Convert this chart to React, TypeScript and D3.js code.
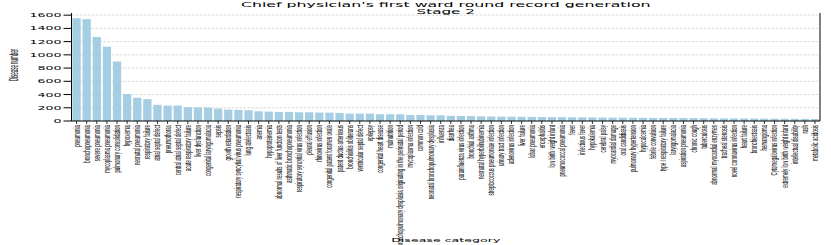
import React, { useEffect, useRef } from 'react';
import * as d3 from 'd3';

const title = "Chief physician's first ward round record generation";
const subtitle = 'Stage 2';
const xTitle = 'Disease category';
const yTitle = 'Disease number';

const categories = [
  'pneumonia', 'bronchopneumonia', 'severe pneumonia', 'mycoplasma pneumonia', 'pulmonary consolidation',
  'hypoxemia', 'neonatal pneumonia', 'respiratory failure', 'atrial septal defect', 'pneumothorax',
  'central atrial septal defect', 'acute respiratory failure', 'liver dysfunction', 'congenital laryngomalacia', 'sepsis',
  'growth retardation', 'respiratory syncytial virus pneumonia', 'lung atelectasis', 'anemia', 'hypoproteinemia',
  'abnormal results of liver function tests', 'asthmatic bronchopneumonia', 'respiratory syncytial virus infection', 'pleural effusion', 'rhinovirus infection',
  'congenital patent foramen ovale', 'patent ductus arteriosus', 'bronchiolitis obliterans', 'ventricular septal defect', 'epilepsy',
  'congenital heart disease', 'malnutrition', 'bronchopulmonary dysplasia originating in the perinatal period', 'mycoplasma infection', 'common cold',
  'neonatal bronchopulmonary dysplasia', 'influenza', 'diarrhea', 'parainfluenza virus infection', 'bronchial asthma',
  'neonatal hyperbilirubinemia', 'streptococcus pneumoniae infection', 'urinary tract infection', 'adenovirus infection', 'liver failure',
  'lobar pneumonia', 'encephalitis', 'low birth weight infant', 'pneumococcal pneumonia', 'fever',
  'infectious fever', 'hypokalemia', 'cerebral palsy', 'myocardial damage', 'oral candidiasis',
  'pulmonary hypertension', 'hypocalcemia', 'febrile convulsion', 'type I respiratory failure', 'laryngomalacia',
  'aspiration pneumonia', 'chronic cough', 'tuberculosis', 'abnormal myocardial enzymes', 'tracheal stenosis',
  'novel coronavirus infection', 'heart failure', 'bronchiectasis', 'hemangioma', 'Cytomegalovirus infection',
  'extremely low birth weight infant', 'intellectual disability', 'rash', 'metabolic acidosis',
];

const counts = [
  1555, 1540, 1270, 1123, 900, 407, 351, 331, 244, 233,
  233, 209, 206, 203, 188, 173, 168, 162, 147, 142,
  137, 137, 132, 132, 127, 127, 122, 112, 112, 112,
  102, 102, 102, 91, 91, 86, 86, 78, 76, 74,
  70, 68, 66, 65, 63, 62, 60, 59, 58, 56,
  55, 54, 52, 51, 50, 49, 48, 47, 46, 45,
  44, 43, 42, 41, 40, 39, 38, 37, 36, 35,
  34, 33, 32, 31,
];

const yTicks = [0, 200, 400, 600, 800, 1000, 1200, 1400, 1600];

export default function App() {
  const svgRef = useRef<SVGSVGElement>(null);

  useEffect(() => {
    document.body.style.margin = '0';
    const svg = d3.select(svgRef.current);
    svg.selectAll('*').remove();

    const width = 831;
    const height = 245;
    const margin = { top: 13, right: 11, bottom: 124, left: 71.5 };
    const innerRight = width - margin.right;
    const innerBottom = height - margin.bottom;

    svg.attr('width', width).attr('height', height);

    const x = d3.scaleBand<string>()
      .domain(categories)
      .range([margin.left, innerRight])
      .paddingInner(0.18)
      .paddingOuter(0.09);

    const y = d3.scaleLinear()
      .domain([0, d3.max(counts)! * 1.05])
      .range([innerBottom, margin.top]);

    const font = 'DejaVu Sans, sans-serif';

    // grid
    svg.append('g')
      .selectAll('line')
      .data(yTicks.filter((t) => t > 0))
      .enter()
      .append('line')
      .attr('x1', margin.left)
      .attr('x2', innerRight)
      .attr('y1', (d) => y(d))
      .attr('y2', (d) => y(d))
      .attr('stroke', '#c8c8c8')
      .attr('stroke-width', 0.7)
      .attr('stroke-dasharray', '2.5,1.5');

    // bars
    svg.append('g')
      .selectAll('rect')
      .data(categories)
      .enter()
      .append('rect')
      .attr('x', (d) => x(d)!)
      .attr('width', x.bandwidth())
      .attr('y', (d, i) => y(counts[i]))
      .attr('height', (d, i) => innerBottom - y(counts[i]))
      .attr('fill', '#a6cee3');

    // spines
    svg.append('line')
      .attr('x1', margin.left).attr('x2', margin.left)
      .attr('y1', margin.top).attr('y2', innerBottom)
      .attr('stroke', '#000').attr('stroke-width', 1);
    svg.append('line')
      .attr('x1', innerRight).attr('x2', innerRight)
      .attr('y1', margin.top).attr('y2', innerBottom)
      .attr('stroke', '#000').attr('stroke-width', 1);
    svg.append('line')
      .attr('x1', margin.left).attr('x2', innerRight)
      .attr('y1', innerBottom).attr('y2', innerBottom)
      .attr('stroke', '#000').attr('stroke-width', 1);

    // y ticks
    const yt = svg.append('g');
    yt.selectAll('line')
      .data(yTicks)
      .enter()
      .append('line')
      .attr('x1', margin.left - 8)
      .attr('x2', margin.left)
      .attr('y1', (d) => y(d))
      .attr('y2', (d) => y(d))
      .attr('stroke', '#000');
    yt.selectAll('text')
      .data(yTicks)
      .enter()
      .append('text')
      .attr('transform', (d) => `translate(${margin.left - 10},${y(d)}) scale(1,0.45)`)
      .attr('dy', '0.36em')
      .attr('text-anchor', 'end')
      .style('font-family', font)
      .style('font-size', '12.6px')
      .text((d) => d);

    // x ticks
    const xt = svg.append('g');
    xt.selectAll('line')
      .data(categories)
      .enter()
      .append('line')
      .attr('x1', (d) => x(d)! + x.bandwidth() / 2)
      .attr('x2', (d) => x(d)! + x.bandwidth() / 2)
      .attr('y1', innerBottom)
      .attr('y2', innerBottom + 3)
      .attr('stroke', '#000')
      .attr('stroke-width', 0.8);
    xt.selectAll('text')
      .data(categories)
      .enter()
      .append('text')
      .attr('transform', (d) => `translate(${x(d)! + x.bandwidth() / 2},${innerBottom + 4}) scale(1,0.52) rotate(-90)`)
      .attr('dy', '0.35em')
      .attr('text-anchor', 'end')
      .style('font-family', 'Liberation Sans, sans-serif')
      .style('font-size', '8.5px')
      .text((d) => d);

    // axis titles
    svg.append('text')
      .attr('transform', `translate(${(margin.left + innerRight) / 2},242) scale(1,0.45)`)
      .attr('text-anchor', 'middle')
      .style('font-family', font)
      .style('font-size', '12.6px')
      .text(xTitle);

    svg.append('text')
      .attr('transform', `translate(18,${(margin.top + innerBottom) / 2 - 2}) scale(1,0.34) rotate(-90)`)
      .attr('text-anchor', 'middle')
      .style('font-family', 'Liberation Sans, sans-serif')
      .style('font-size', '13px')
      .text(yTitle);

    // title
    const cx = (margin.left + innerRight) / 2;
    svg.append('text')
      .attr('transform', `translate(${cx},6.9) scale(1,0.4)`)
      .attr('text-anchor', 'middle')
      .style('font-family', font)
      .style('font-size', '15.8px')
      .text(title);
    svg.append('text')
      .attr('transform', `translate(${cx},14.2) scale(1,0.4)`)
      .attr('text-anchor', 'middle')
      .style('font-family', font)
      .style('font-size', '15.2px')
      .text(subtitle);
  }, []);

  return <svg ref={svgRef} />;
}
